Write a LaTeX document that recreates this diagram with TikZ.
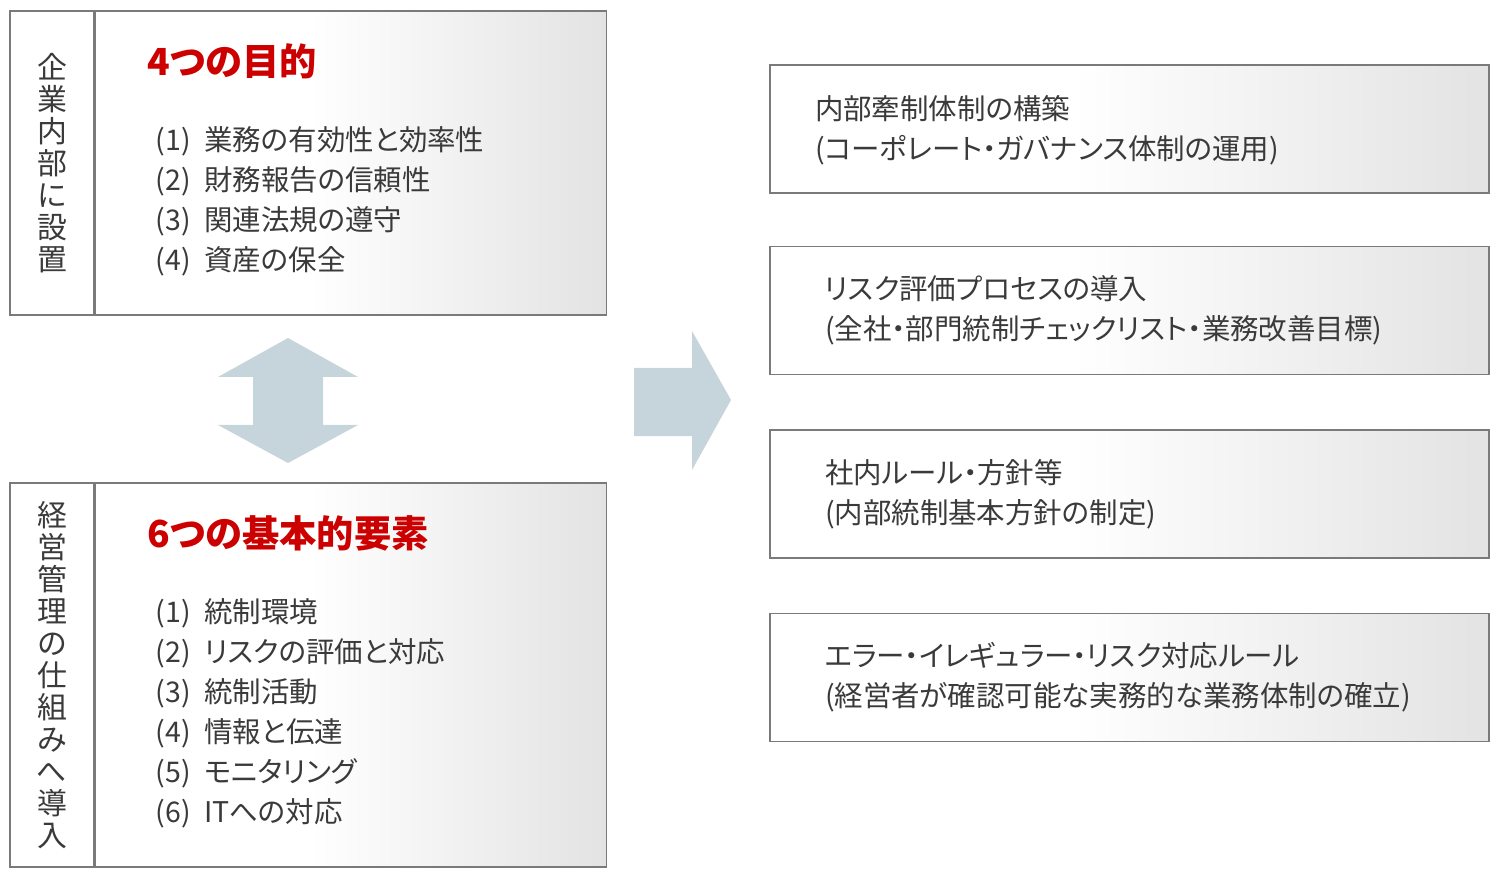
\documentclass[tikz,border=0pt]{standalone}
\usepackage{fontspec}
\setmainfont{Noto Sans CJK JP}[RawFeature=+palt]
\usepackage{tikz}
\usetikzlibrary{positioning}
\definecolor{linegray}{HTML}{7A7A7A}
\definecolor{textgray}{HTML}{3A3A3A}
\definecolor{titlered}{HTML}{CC0000}
\definecolor{arrowblue}{HTML}{C6D5DC}
\pgfdeclarehorizontalshading{boxfade}{100bp}{color(0bp)=(white); color(25bp)=(white); color(46bp)=(white); color(75bp)=(black!11); color(100bp)=(black!11)}
\newcommand\itemno[1]{(#1)\hspace{0.47em}}

\begin{document}
\begin{tikzpicture}[x=0.1mm, y=-0.1mm,
  side/.style={draw=linegray, fill=white, minimum width=8.4mm, inner sep=0pt},
  panel/.style={draw=linegray, shade, shading=boxfade, minimum width=51.1mm, inner sep=0pt},
  card/.style={draw=linegray, shade, shading=boxfade, minimum width=71.9mm, minimum height=12.8mm, inner sep=0pt},
  head/.style={text=titlered, font=\fontsize{10.6}{12}\selectfont\bfseries, anchor=west, inner sep=0pt},
  items/.style={text=textgray, font=\fontsize{8.1}{11.38}\selectfont, align=left, anchor=west, inner sep=0pt},
  vlabel/.style={text=textgray, font=\fontsize{8.5}{9.1}\selectfont, align=center, inner sep=0pt},
  block/.style={fill=arrowblue}]
  \useasboundingbox (0,0) rectangle (1500,880);

  \node[side, minimum height=30.4mm] (L1) at (52,163) {};
  \node[panel, minimum height=30.4mm, right=0pt of L1] (P1) {};
  \node[side, minimum height=38.4mm] (L2) at (52,675) {};
  \node[panel, minimum height=38.4mm, right=0pt of L2] (P2) {};

  \node[vlabel] (V1) at (L1) {企\\業\\内\\部\\に\\設\\置};
  \node[vlabel] (V2) at (L2) {経\\営\\管\\理\\の\\仕\\組\\み\\へ\\導\\入};

  \node[head] (H1) at (147,61) {4つの目的};
  \node[items] (I1) at (155,201) {\itemno{1}業務の有効性と効率性\\\itemno{2}財務報告の信頼性\\\itemno{3}関連法規の遵守\\\itemno{4}資産の保全};
  \node[head] (H2) at (147,533) {6つの基本的要素};
  \node[items] (I2) at (155,713) {\itemno{1}統制環境\\\itemno{2}リスクの評価と対応\\\itemno{3}統制活動\\\itemno{4}情報と伝達\\\itemno{5}モニタリング\\\itemno{6}ITへの対応};

  \fill[block] (288,338) -- (358,377) -- (323,377) -- (323,425) -- (358,425) -- (288,463)
    -- (218,425) -- (253,425) -- (253,377) -- (218,377) -- cycle;
  \fill[block] (634,368) -- (692,368) -- (692,331) -- (731,400) -- (692,470) -- (692,436)
    -- (634,436) -- cycle;

  \node[card] (B1) at (1129.5,129) {};
  \node[card, below=5.2mm of B1] (B2) {};
  \node[card, below=5.4mm of B2] (B3) {};
  \node[card, below=5.4mm of B3] (B4) {};

  \node[items] (T1) at ([xshift=4.5mm,yshift=-0.1mm]B1.west) {内部牽制体制の構築\\(コーポレート・ガバナンス体制の運用)};
  \node[items] (T2) at ([xshift=5.5mm]B2.west) {リスク評価プロセスの導入\\(全社・部門統制チェックリスト・業務改善目標)};
  \node[items] (T3) at ([xshift=5.5mm]B3.west) {社内ルール・方針等\\(内部統制基本方針の制定)};
  \node[items] (T4) at ([xshift=5.5mm]B4.west) {エラー・イレギュラー・リスク対応ルール\\(経営者が確認可能な実務的な業務体制の確立)};
\end{tikzpicture}
\end{document}
